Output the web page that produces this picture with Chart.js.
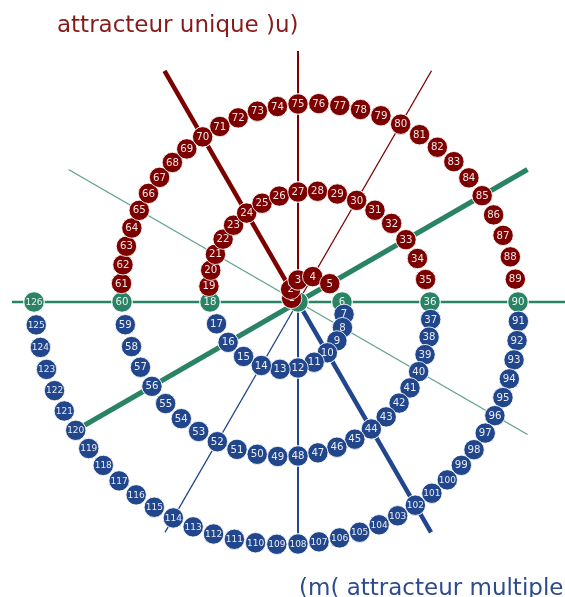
<!DOCTYPE html>
<html>
<head>
<meta charset="utf-8">
<script src="https://cdn.jsdelivr.net/npm/chart.js@4"></script>
<style>
  body { margin: 0; background: #fff; }
  #wrap { position: relative; width: 565px; height: 597px; overflow: hidden; }
  canvas { position: absolute; left: 0; top: 0; }
  .caption { position: absolute; font-family: "DejaVu Sans", sans-serif; font-size: 23px; line-height: 23px; white-space: nowrap; }
  #top { left: 57px; top: 13px; color: #8a1a1a; }
  #bottom { left: 299px; top: 576px; color: #2c4c8e; }
</style>
</head>
<body>
<div id="wrap">
  <canvas id="spiral" width="565" height="597"></canvas>
  <div class="caption" id="top">attracteur unique )u)</div>
  <div class="caption" id="bottom">(m( attracteur multiple</div>
</div>
<script>
// numbers where the spiral crosses the horizontal axis (end of each half turn)
const turnEnds = [0, 6, 18, 36, 60, 90, 126];

// rays through the centre: angle in degrees, length in axis units
const rayAngles = [0, 180, 30, 210, 150, 330, 90, 270, 120, 300, 60, 240];
const rayLengths = [286, 286, 265, 258, 265, 265, 251, 246, 267, 266, 267, 266];

const RED = "#7d0000";
const BLUE = "#22468c";
const GREEN = "#2a8364";

const rayColors = [GREEN, GREEN, GREEN, GREEN, "rgba(42,131,100,0.75)", "rgba(42,131,100,0.75)",
  RED, BLUE, RED, BLUE, RED, BLUE];
const rayWidths = [2.5, 2.5, 5, 5, 1.3, 1.3, 2, 2, 4.5, 4.5, 1.3, 1.3];

const PITCH = 44; // radius gained per half turn

// every number sits on the spiral: half turn k holds (turnEnds[k] - turnEnds[k-1]) equal steps
const spiralNumbers = [];
const spiralPoints = [];
const spiralColors = [];
for (let n = 0; n <= turnEnds[turnEnds.length - 1]; n++) {
  let k = 1;
  while (n > turnEnds[k]) k++;
  const steps = turnEnds[k] - turnEnds[k - 1];
  const theta = (k - 1) * Math.PI + (n - turnEnds[k - 1]) * Math.PI / steps;
  const r = PITCH * theta / Math.PI;
  const phi = Math.PI - theta;
  spiralNumbers.push(n);
  spiralPoints.push({ x: r * Math.cos(phi), y: r * Math.sin(phi) });
  if (turnEnds.includes(n)) spiralColors.push(GREEN);
  else spiralColors.push(k % 2 === 1 ? RED : BLUE);
}

const rayDatasets = rayAngles.map((a, i) => ({
  type: "line",
  data: [
    { x: 0, y: 0 },
    { x: rayLengths[i] * Math.cos(a * Math.PI / 180), y: rayLengths[i] * Math.sin(a * Math.PI / 180) },
  ],
  borderColor: rayColors[i],
  borderWidth: rayWidths[i],
  pointRadius: 0,
  fill: false,
  order: 2,
}));

// redraw each point then its number, so later points cover earlier labels
const numberLabels = {
  id: "numberLabels",
  afterDatasetsDraw(chart) {
    const meta = chart.getDatasetMeta(0);
    const c = chart.ctx;
    c.save();
    c.textAlign = "center";
    c.textBaseline = "middle";
    meta.data.forEach((pt, i) => {
      pt.draw(c);
      const n = spiralNumbers[i];
      if (n === 0) return;
      c.font = (n >= 100 ? "9px" : "10.2px") + " 'DejaVu Sans', sans-serif";
      c.fillStyle = "rgba(255,255,255,0.9)";
      c.fillText(String(n), pt.x, pt.y + 0.5);
    });
    c.restore();
  },
};

const ctx = document.getElementById("spiral").getContext("2d");

new Chart(ctx, {
  type: "scatter",
  data: {
    datasets: [
      {
        data: spiralPoints,
        backgroundColor: spiralColors,
        borderColor: "rgba(255,255,255,0.85)",
        borderWidth: 1,
        pointRadius: 10.2,
        order: 1,
      },
      ...rayDatasets,
    ],
  },
  options: {
    responsive: false,
    animation: false,
    events: [],
    layout: { padding: 0, autoPadding: false },
    scales: {
      x: { type: "linear", min: -298, max: 267, display: false },
      y: { type: "linear", min: -295, max: 302, display: false },
    },
    plugins: {
      legend: { display: false },
      tooltip: { enabled: false },
    },
  },
  plugins: [numberLabels],
});
</script>
</body>
</html>
